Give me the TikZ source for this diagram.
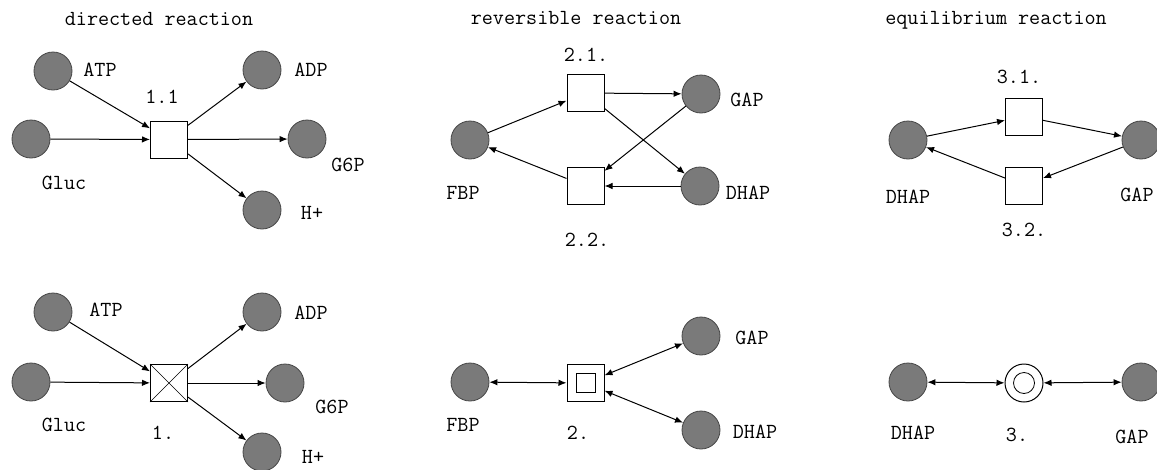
\documentclass[tikz,border=0pt]{standalone}
\usepackage{fontspec}
\usetikzlibrary{arrows.meta}
\definecolor{placefill}{RGB}{122,122,122}
\definecolor{placeline}{RGB}{70,70,70}
\begin{document}
\begin{tikzpicture}[x=1pt,y=-1pt,
  place/.style={circle,draw=placeline,fill=placefill,line width=0.8pt,minimum size=38pt,inner sep=0pt},
  trans/.style={rectangle,draw=black,fill=white,line width=1pt,minimum size=37pt,inner sep=0pt},
  ctrans/.style={circle,draw=black,fill=white,line width=1pt,minimum size=38pt,inner sep=0pt},
  innersq/.style={rectangle,draw=black,line width=1pt,minimum size=19pt,inner sep=0pt},
  innerci/.style={circle,draw=black,line width=0.8pt,minimum size=21pt,inner sep=0pt},
  lbl/.style={font=\ttfamily\fontsize{21.5}{21.5}\selectfont,inner sep=0pt},
  arr/.style={line width=1pt,-{Latex[length=8pt,width=6.5pt]}},
  biarr/.style={line width=1pt,{Latex[length=8pt,width=6.5pt]}-{Latex[length=8pt,width=6.5pt]}}
]
\useasboundingbox (0,0) rectangle (1157,469);
\fill[white] (0,0) rectangle (1157,469);

% ---------- directed reaction (top) ----------
\node[lbl] (title1) at (159,19) {directed reaction};
\node[place] (atp1) at (53,71) {};
\node[place] (gluc1) at (31,139) {};
\node[trans] (t11) at (169,139.5) {};
\node[place] (adp1) at (262,70) {};
\node[place] (g6p1) at (307,139) {};
\node[place] (h1) at (262,210) {};
\node[lbl] (latp1) at (100,70) {ATP};
\node[lbl] (lgluc1) at (64,183) {Gluc};
\node[lbl] (lt11) at (162,97) {1.1};
\node[lbl] (ladp1) at (311,70) {ADP};
\node[lbl] (lg6p1) at (348,165) {G6P};
\node[lbl] (lh1) at (312,213) {H+};
\draw[arr] (atp1) -- (t11);
\draw[arr] (gluc1) -- (t11);
\draw[arr] (t11) -- (adp1);
\draw[arr] (t11) -- (g6p1);
\draw[arr] (t11) -- (h1);

% ---------- directed reaction (bottom) ----------
\node[place] (atp2) at (53,312) {};
\node[place] (gluc2) at (31,382) {};
\node[trans] (t1) at (169,383) {};
\draw[line width=0.6pt] (t1.north west) -- (t1.south east) (t1.north east) -- (t1.south west);
\node[place] (adp2) at (262,312) {};
\node[place] (g6p2) at (285,383) {};
\node[place] (h2) at (262,452) {};
\node[lbl] (latp2) at (106,310) {ATP};
\node[lbl] (lgluc2) at (64,425) {Gluc};
\node[lbl] (lt1) at (163,433) {1.};
\node[lbl] (ladp2) at (311,313) {ADP};
\node[lbl] (lg6p2) at (332,407) {G6P};
\node[lbl] (lh2) at (313,457) {H+};
\draw[arr] (atp2) -- (t1);
\draw[arr] (gluc2) -- (t1);
\draw[arr] (t1) -- (adp2);
\draw[arr] (t1) -- (g6p2);
\draw[arr] (t1) -- (h2);

% ---------- reversible reaction (top) ----------
\node[lbl] (title2) at (576,18) {reversible reaction};
\node[trans] (t21) at (585.5,93) {};
\node[trans] (t22) at (585.5,186) {};
\node[place] (gap3) at (701,94) {};
\node[place] (fbp3) at (470,140) {};
\node[place] (dhap3) at (700,186) {};
\node[lbl] (lt21) at (586,55) {2.1.};
\node[lbl] (lt22) at (587,240) {2.2.};
\node[lbl] (lgap3) at (747,100) {GAP};
\node[lbl] (lfbp3) at (463,193) {FBP};
\node[lbl] (ldhap3) at (748,193) {DHAP};
\draw[arr] (fbp3) -- (t21);
\draw[arr] (t21) -- (gap3);
\draw[arr] (t21) -- (dhap3);
\draw[arr] (gap3) -- (t22);
\draw[arr] (dhap3) -- (t22);
\draw[arr] (t22) -- (fbp3);

% ---------- reversible reaction (bottom) ----------
\node[trans] (t2) at (585.5,383) {};
\node[innersq] (t2in) at (t2) {};
\node[place] (fbp4) at (470,382) {};
\node[place] (gap4) at (701,336) {};
\node[place] (dhap4) at (701,430) {};
\node[lbl] (lfbp4) at (463,425) {FBP};
\node[lbl] (lt2) at (578,433) {2.};
\node[lbl] (lgap4) at (752,338) {GAP};
\node[lbl] (ldhap4) at (755,432) {DHAP};
\draw[biarr] (fbp4) -- (t2);
\draw[biarr] (t2) -- (gap4);
\draw[biarr] (t2) -- (dhap4);

% ---------- equilibrium reaction (top) ----------
\node[lbl] (title3) at (996,20) {equilibrium reaction};
\node[trans] (t31) at (1024,116.5) {};
\node[trans] (t32) at (1024,185.5) {};
\node[place] (dhap5) at (908,140) {};
\node[place] (gap5) at (1141,140) {};
\node[lbl] (lt31) at (1019,77) {3.1.};
\node[lbl] (lt32) at (1024,230) {3.2.};
\node[lbl] (ldhap5) at (908,197) {DHAP};
\node[lbl] (lgap5) at (1137,195) {GAP};
\draw[arr] (dhap5) -- (t31);
\draw[arr] (t31) -- (gap5);
\draw[arr] (gap5) -- (t32);
\draw[arr] (t32) -- (dhap5);

% ---------- equilibrium reaction (bottom) ----------
\node[ctrans] (t3) at (1024,383) {};
\node[innerci] (t3in) at (t3) {};
\node[place] (dhap6) at (908,382) {};
\node[place] (gap6) at (1141,382) {};
\node[lbl] (ldhap6) at (913,433) {DHAP};
\node[lbl] (lt3) at (1017,435) {3.};
\node[lbl] (lgap6) at (1132,437) {GAP};
\draw[biarr] (dhap6) -- (t3);
\draw[biarr] (t3) -- (gap6);
\end{tikzpicture}
\end{document}
